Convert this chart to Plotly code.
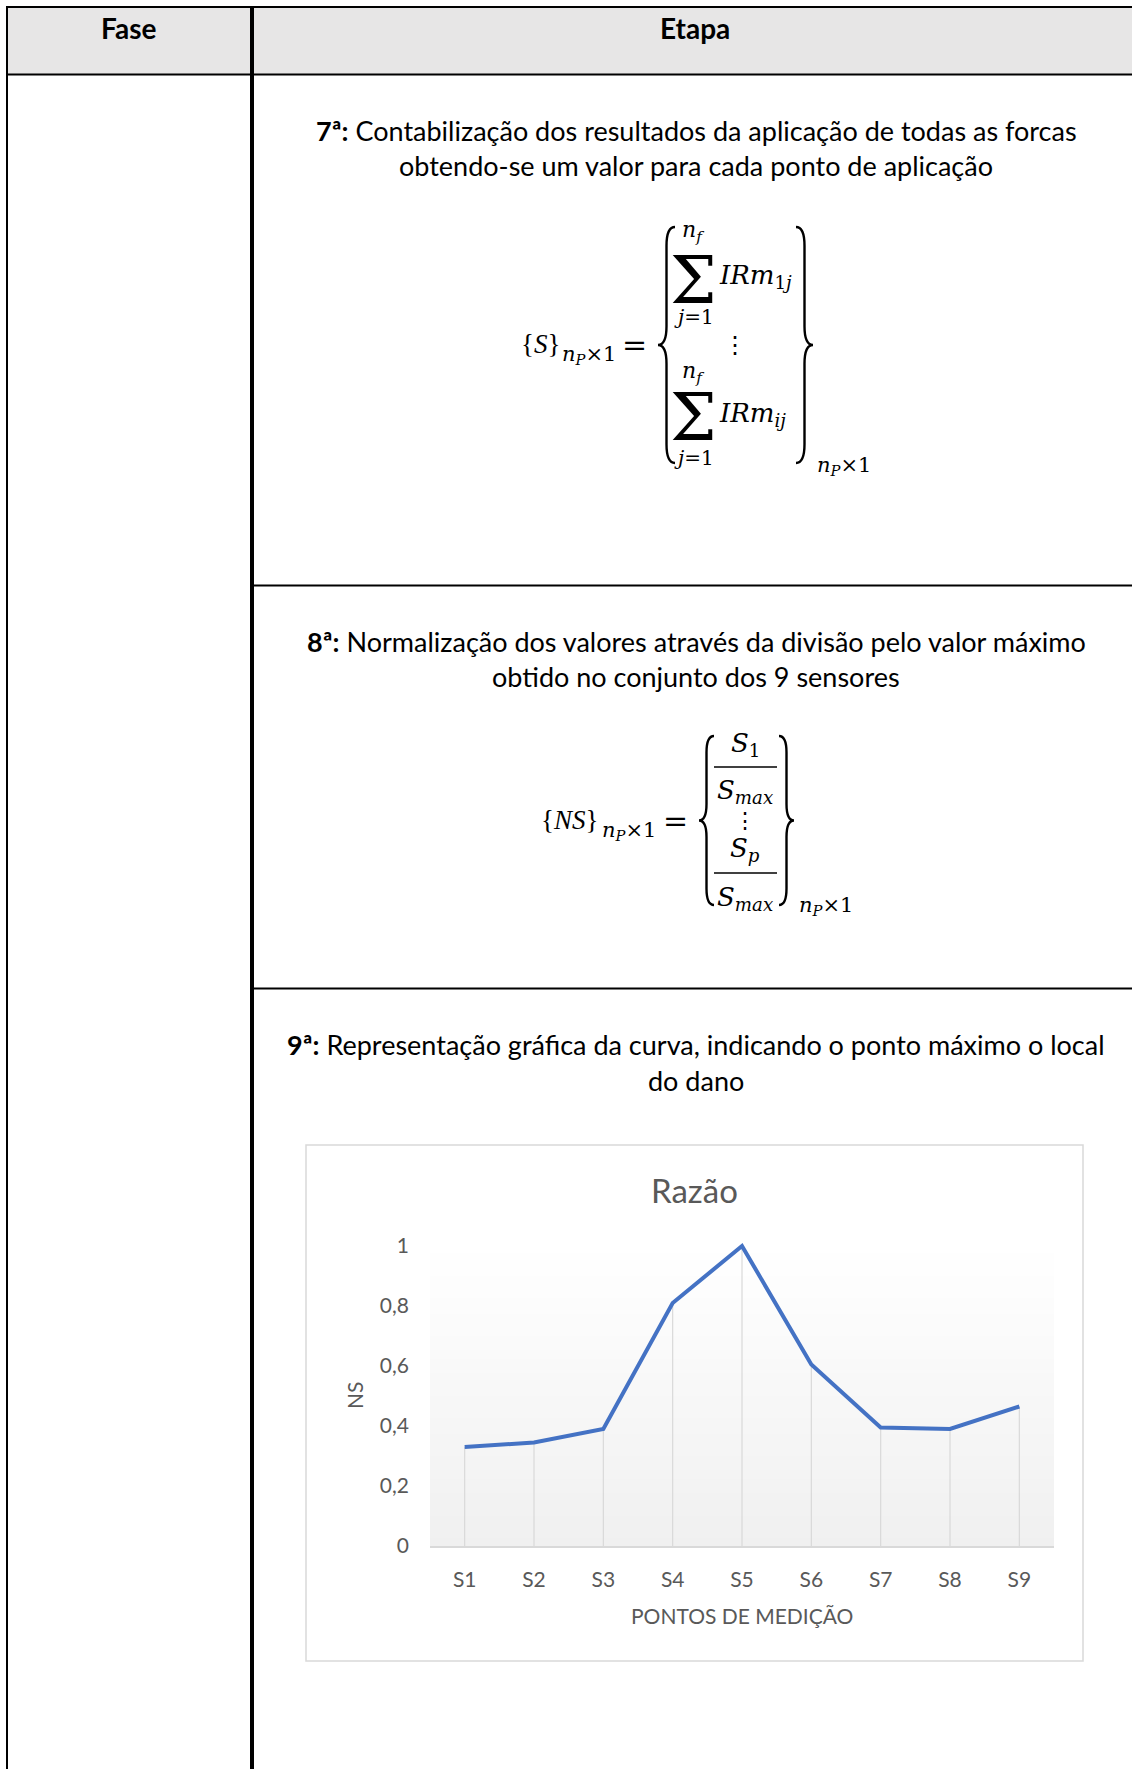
import plotly.graph_objects as go

# Measurement points and normalised sum NS at each one
points = ["S1", "S2", "S3", "S4", "S5", "S6", "S7", "S8", "S9"]
ns_values = [0.33, 0.345, 0.39, 0.81, 1.0, 0.605, 0.395, 0.39, 0.465]
y_ticks = [0, 0.2, 0.4, 0.6, 0.8, 1.0]

# Table texts
header_phase = "Fase"
header_step = "Etapa"
step7 = ["<b>7ª:</b> Contabilização dos resultados da aplicação de todas as forcas",
         "obtendo-se um valor para cada ponto de aplicação"]
step8 = ["<b>8ª:</b> Normalização dos valores através da divisão pelo valor máximo",
         "obtido no conjunto dos 9 sensores"]
step9 = ["<b>9ª:</b> Representação gráfica da curva, indicando o ponto máximo o local",
         "do dano"]
chart_title = "Razão"
x_title = "PONTOS DE MEDIÇÃO"
y_title = "NS"

W, H = 1132, 1769
BODY = "Lato, 'Open Sans', sans-serif"
MATH = "'DejaVu Serif', 'Liberation Serif', serif"
MATH_NARROW = "'Liberation Serif', 'DejaVu Serif', serif"
GREY = "#595959"


def X(px):
    return px / W


def Y(py):
    return 1 - py / H


annotations = []
shapes = []


def text(x, y, s, size, family=BODY, color="black", xanchor="center",
         yanchor="middle", angle=0):
    annotations.append(dict(xref="paper", yref="paper", x=X(x), y=Y(y), text=s,
                            showarrow=False, xanchor=xanchor, yanchor=yanchor,
                            textangle=angle,
                            font=dict(family=family, size=size, color=color)))


def line(x0, y0, x1, y1, width=2, color="black"):
    shapes.append(dict(type="line", xref="paper", yref="paper",
                       x0=X(x0), y0=Y(y0), x1=X(x1), y1=Y(y1),
                       line=dict(color=color, width=width)))


def rect(x0, y0, x1, y1, fill, border=None, width=0):
    shapes.append(dict(type="rect", xref="paper", yref="paper", layer="below",
                       x0=X(x0), y0=Y(y0), x1=X(x1), y1=Y(y1),
                       fillcolor=fill,
                       line=dict(color=border or fill, width=width)))


def brace(xa, xb, y0, y1, left=True, width=2.4):
    """Tall curly brace spanning y0..y1 between columns xa and xb."""
    xm = (xa + xb) / 2
    ym = (y0 + y1) / 2
    r = (xb - xa) * 1.1
    tip, cusp = (xb, xa) if left else (xa, xb)
    pts = [("M", tip, y0), ("Q", xm, y0), ("", xm, y0 + r),
           ("L", xm, ym - r), ("Q", xm, ym), ("", cusp, ym),
           ("Q", xm, ym), ("", xm, ym + r),
           ("L", xm, y1 - r), ("Q", xm, y1), ("", tip, y1)]
    path = " ".join(f"{c}{X(px):.6f},{Y(py):.6f}" if c else f"{X(px):.6f},{Y(py):.6f}"
                    for c, px, py in pts)
    shapes.append(dict(type="path", xref="paper", yref="paper", path=path,
                       line=dict(color="black", width=width)))


# ---- table frame ----
rect(7, 7, 1136, 74, "#E7E6E6")
line(6, 7, W, 7)
line(7, 6, 7, H)
line(6, 74.5, W, 74.5)
line(252, 6, 252, H, width=4)
line(252, 585.5, W, 585.5)
line(252, 988.5, W, 988.5)

text(128, 28, f"<b>{header_phase}</b>", 28)
text(695, 28, f"<b>{header_step}</b>", 28)

text(696, 130, step7[0], 27)
text(696, 166, step7[1], 27)
text(696, 641, step8[0], 27)
text(696, 677, step8[1], 27)
text(696, 1044, step9[0], 27)
text(696, 1080, step9[1], 27)

# ---- formula {S} ----
text(519, 344, "{<i>S</i>}", 27, MATH_NARROW, xanchor="left")
text(560, 355, "<i>n</i><sub><i>P</i></sub>×1", 21, MATH, xanchor="left")
text(634, 345, "=", 30, MATH)
brace(658, 675, 227, 463, left=True)
for top, mid, bot, row in [(231, 280, 317, "1<i>j</i>"), (372, 418, 458, "<i>ij</i>")]:
    text(693, top, "<i>n<sub>f</sub></i>", 22, MATH)
    text(693, mid, "Σ", 66, MATH)
    text(694, bot, "<i>j</i>=1", 20, MATH)
    text(717, mid - 4, f"<i>IRm</i><sub>{row}</sub>", 26, MATH, xanchor="left")
text(735, 345, "⋮", 24, MATH)
brace(796, 813, 227, 463, left=False)
text(815, 466, "<i>n</i><sub><i>P</i></sub>×1", 21, MATH, xanchor="left")

# ---- formula {NS} ----
text(539, 820, "{<i>NS</i>}", 27, MATH_NARROW, xanchor="left")
text(600, 831, "<i>n</i><sub><i>P</i></sub>×1", 21, MATH, xanchor="left")
text(675, 821, "=", 30, MATH)
brace(699, 714, 736, 905, left=True)
text(745, 745, "<i>S</i><sub>1</sub>", 26, MATH)
line(714, 767, 777, 767, width=1.6)
text(745, 792, "<i>S<sub>max</sub></i>", 26, MATH)
text(745, 820, "⋮", 22, MATH)
text(745, 850, "<i>S<sub>p</sub></i>", 26, MATH)
line(714, 873, 777, 873, width=1.6)
text(745, 898, "<i>S<sub>max</sub></i>", 26, MATH)
brace(779, 794, 736, 905, left=False)
text(797, 906, "<i>n</i><sub><i>P</i></sub>×1", 21, MATH, xanchor="left")

# ---- chart frame and plot-area gradient ----
PL, PR, PB, PT = 430, 1054, 1546, 1240
rect(306, 1145, 1083, 1661, "white", "#D9D9D9", 1.5)
bands = 40
for i in range(bands):
    t = (i + 0.5) / bands
    g = round(255 - (255 - 240) * t)
    y0 = 1246 + (PB - 1246) * i / bands
    y1 = 1246 + (PB - 1246) * (i + 1) / bands
    rect(PL, y0, PR, y1 + 0.5, f"rgb({g},{g},{g})")

text(694, 1190, chart_title, 33, color=GREY)
text(742, 1615, x_title, 21, color=GREY)
text(354, 1396, y_title, 21, color=GREY, angle=-90)

# ---- traces ----
drop_x, drop_y = [], []
for p, v in zip(points, ns_values):
    drop_x += [p, p, None]
    drop_y += [0, v, None]

fig = go.Figure()
fig.add_trace(go.Scatter(x=drop_x, y=drop_y, mode="lines",
                         line=dict(color="#D9D9D9", width=1.2),
                         hoverinfo="skip", showlegend=False))
fig.add_trace(go.Scatter(x=points, y=ns_values, mode="lines",
                         line=dict(color="#4472C4", width=4),
                         showlegend=False))

fig.update_layout(
    width=W, height=H,
    margin=dict(l=0, r=0, t=0, b=0, pad=0, autoexpand=False),
    paper_bgcolor="white",
    plot_bgcolor="rgba(0,0,0,0)",
    separators=",.",
    showlegend=False,
    shapes=shapes,
    annotations=annotations,
    xaxis=dict(domain=[X(PL), X(PR)], type="category", range=[-0.5, 8.5],
               categoryorder="array", categoryarray=points,
               showgrid=False, zeroline=False, showline=True,
               linecolor="#D9D9D9", linewidth=1.5, ticks="",
               ticklabelstandoff=14, automargin=False,
               tickfont=dict(family=BODY, size=21, color=GREY),
               fixedrange=True),
    yaxis=dict(domain=[Y(PB), Y(PT)], range=[0, 1.02], tickvals=y_ticks,
               showgrid=False, zeroline=False, showline=False, ticks="",
               ticklabelstandoff=20, automargin=False,
               tickfont=dict(family=BODY, size=21, color=GREY),
               fixedrange=True),
)

fig.write_html("out.html")
